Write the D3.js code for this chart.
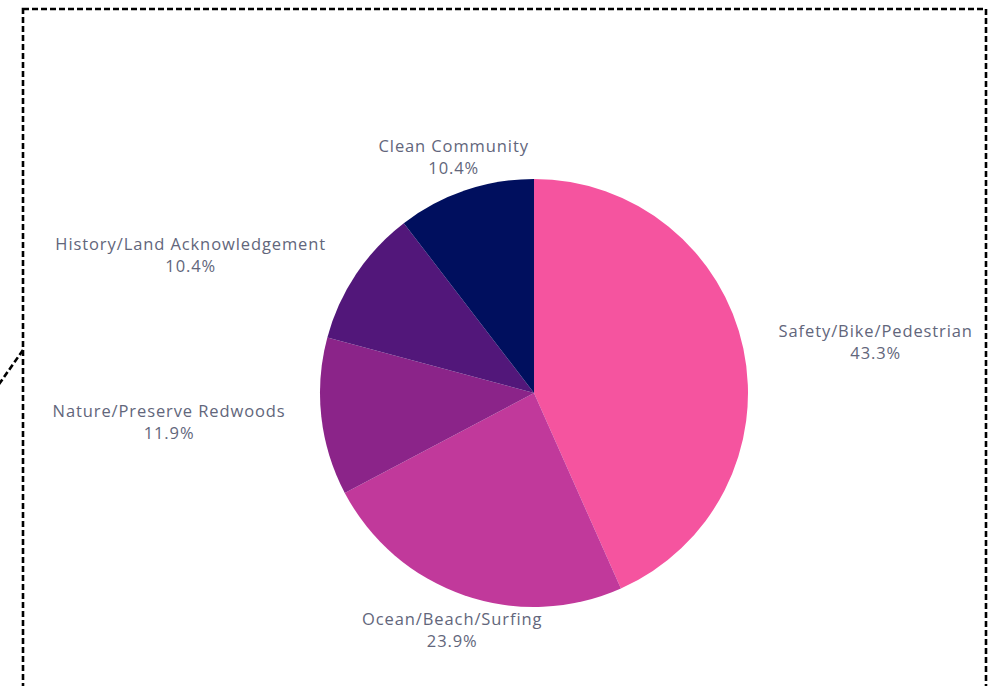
<!DOCTYPE html>
<html lang="en">
<head>
    <meta charset="UTF-8">
    <title>Topics</title>
    <script src="https://d3js.org/d3.v7.min.js"></script>
    <style>
        body { margin: 0; background: #fff; }
    </style>
</head>
<body>
    <div id="pie"></div>
    <script>
    // data
    const categories = ["Safety/Bike/Pedestrian", "Ocean/Beach/Surfing", "Nature/Preserve Redwoods", "History/Land Acknowledgement", "Clean Community"]
    const values = [43.3, 23.9, 11.9, 10.4, 10.4]
    const colors = ["#f5549f", "#c1399b", "#8b2489", "#52177a", "#000f5e"]

    let width = 999,
        height = 686,
        cx = 534,
        cy = 393,
        radius = 214,
        labelRadius = 250,
        lineH = 22,
        labelSpacing = 98

    let svg = d3.select("#pie").append("svg")
        .attr("width", width)
        .attr("height", height)

    // dashed frame + the connector sticking out on the left
    svg.append("rect")
        .attr("x", 23).attr("y", 9)
        .attr("width", 963).attr("height", 700)
        .attr("fill", "none")
        .attr("stroke", "#000")
        .attr("stroke-width", 2.6)
        .attr("stroke-dasharray", "6,3")
    svg.append("line")
        .attr("x1", 23).attr("y1", 350)
        .attr("x2", -5).attr("y2", 390)
        .attr("stroke", "#000")
        .attr("stroke-width", 2.6)
        .attr("stroke-dasharray", "6,3")

    let g = svg.append("g").attr("transform", `translate(${cx},${cy})`)

    let data = categories.map((c, i) => ({ key: c, value: values[i], color: colors[i] }))

    let pie = d3.pie().sort(null).value(d => d.value)
    let arcs = pie(data)

    let arc = d3.arc().innerRadius(0).outerRadius(radius)

    g.selectAll("path.slice")
        .data(arcs)
        .enter()
        .append("path")
        .attr("class", "slice")
        .attr("d", arc)
        .attr("fill", d => d.data.color)

    // label layout: radial, then push left-side labels apart vertically
    let labels = arcs.map(d => {
        let mid = (d.startAngle + d.endAngle) / 2
        return { d: d, mid: mid, y: -Math.cos(mid) * labelRadius, left: mid > Math.PI }
    })
    let leftSide = labels.filter(l => l.left).sort((a, b) => a.y - b.y)
    for (let i = 1; i < leftSide.length; i++) {
        if (leftSide[i].y - leftSide[i - 1].y < labelSpacing) leftSide[i].y = leftSide[i - 1].y + labelSpacing
    }
    labels.forEach(l => {
        let dx = Math.sqrt(Math.max(0, labelRadius * labelRadius - l.y * l.y))
        l.x = l.left ? -dx : dx
        let s = Math.abs(l.x) / labelRadius
        l.anchor = s < 0.45 ? "middle" : (l.left ? "end" : "start")
    })

    let fmt = d3.format(".1f")

    let lab = g.selectAll("g.label")
        .data(labels)
        .enter()
        .append("g")
        .attr("class", "label")
        .attr("transform", l => `translate(${l.x},${l.y})`)

    lab.each(function(l) {
        let gg = d3.select(this)
        let t = gg.append("text")
            .attr("font-family", "'Open Sans', sans-serif")
            .attr("font-size", 16.5)
            .attr("letter-spacing", 0.9)
            .attr("fill", "#62667b")
            .attr("dominant-baseline", "central")
        t.append("tspan").attr("x", 0).attr("y", -lineH / 2).text(l.d.data.key)
        t.append("tspan").attr("x", 0).attr("y", lineH / 2).text(fmt(l.d.data.value) + "%")
        // the percentage sits centred under the name
        let w = t.node().getBBox().width
        let off = l.anchor === "start" ? w / 2 : (l.anchor === "end" ? -w / 2 : 0)
        t.attr("text-anchor", "middle").attr("transform", `translate(${off},0)`)
    })
    </script>
</body>
</html>
